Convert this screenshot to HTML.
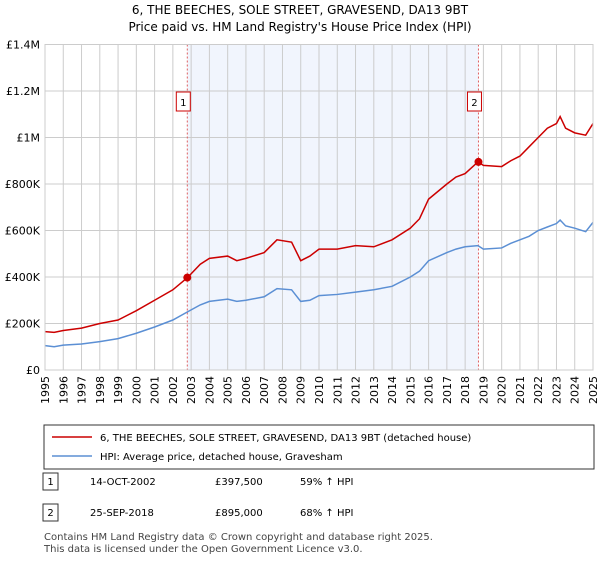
<!DOCTYPE html>
<html><head><meta charset="utf-8"><style>
body{margin:0;background:#fff;font-family:"Liberation Sans","DejaVu Sans",sans-serif}
</style></head><body>
<svg width="600" height="560" xmlns="http://www.w3.org/2000/svg" font-family="DejaVu Sans, Liberation Sans, sans-serif">
<text x="300" y="14" font-size="12" text-anchor="middle">6, THE BEECHES, SOLE STREET, GRAVESEND, DA13 9BT</text>
<text x="300" y="31" font-size="12" text-anchor="middle">Price paid vs. HM Land Registry's House Price Index (HPI)</text>
<g id="plot"></g>
<g>
<rect x="44" y="425" width="550" height="44" fill="#fff" stroke="#333"/>
<line x1="52" y1="437" x2="92" y2="437" stroke="#cc0000" stroke-width="1.5"/>
<text x="100" y="441" font-size="10">6, THE BEECHES, SOLE STREET, GRAVESEND, DA13 9BT (detached house)</text>
<line x1="52" y1="456" x2="92" y2="456" stroke="#5b8fd4" stroke-width="1.5"/>
<text x="100" y="460" font-size="10">HPI: Average price, detached house, Gravesham</text>
</g>
<g font-size="10">
<rect x="43" y="473" width="15" height="17" fill="#fff" stroke="#333"/><text x="50.5" y="485" text-anchor="middle">1</text>
<text x="90" y="485">14-OCT-2002</text><text x="215" y="485">£397,500</text><text x="300" y="485">59% ↑ HPI</text>
<rect x="43" y="504" width="15" height="17" fill="#fff" stroke="#333"/><text x="50.5" y="516" text-anchor="middle">2</text>
<text x="90" y="516">25-SEP-2018</text><text x="215" y="516">£895,000</text><text x="300" y="516">68% ↑ HPI</text>
</g>
<text x="44" y="540" font-size="10" fill="#444">Contains HM Land Registry data © Crown copyright and database right 2025.</text>
<text x="44" y="552" font-size="10" fill="#444">This data is licensed under the Open Government Licence v3.0.</text>
</svg>
<script>
const yTicks=[0,200,400,600,800,1000,1200,1400];
const yTickLabels=["£0","£200K","£400K","£600K","£800K","£1M","£1.2M","£1.4M"];
const years=[1995,1996,1997,1998,1999,2000,2001,2002,2003,2004,2005,2006,2007,2008,2009,2010,2011,2012,2013,2014,2015,2016,2017,2018,2019,2020,2021,2022,2023,2024,2025];
const hpiT=[1995,1995.5,1996,1997,1998,1999,2000,2001,2002,2002.8,2003.5,2004,2005,2005.5,2006,2007,2007.7,2008.5,2009,2009.5,2010,2011,2012,2013,2014,2015,2015.5,2016,2017,2017.5,2018,2018.7,2019,2020,2020.5,2021,2021.5,2022,2022.5,2023,2023.2,2023.5,2024,2024.6,2025];
const hpiV=[105,100,107,112,122,135,158,185,215,250,280,295,305,295,300,315,350,345,295,300,320,325,335,345,360,400,425,470,505,520,530,535,520,525,545,560,575,600,615,630,645,620,610,595,635];
const propV=[165,162,170,180,200,215,255,300,345,397.5,455,480,490,470,480,505,560,550,470,490,520,520,535,530,560,610,650,735,800,830,845,895,880,875,900,920,960,1000,1040,1060,1090,1040,1020,1010,1060];
const saleT=[2002.79,2018.73];
const saleV=[397.5,895];
const saleLabels=["1","2"];
const X0=45,X1=593,Y0=370,Y1=44.5;
const xs=t=>X0+(t-1995)/30*(X1-X0);
const ys=v=>Y0-v/1400*(Y0-Y1);
const g=document.getElementById('plot');
const NS="http://www.w3.org/2000/svg";
function mk(tag,at){const e=document.createElementNS(NS,tag);for(const k in at)e.setAttribute(k,at[k]);g.appendChild(e);return e;}
let sh=mk('rect',{x:xs(saleT[0]),y:Y1,width:xs(saleT[1])-xs(saleT[0]),height:Y0-Y1,fill:'#eef3fd',opacity:0.8});


years.forEach(y=>{let l=mk('line',{x1:xs(y),x2:xs(y),y1:Y1,y2:Y0,stroke:'#ccc'});


let t=mk('text',{transform:`translate(${xs(y)+4},${Y0+6}) rotate(-90)`,'text-anchor':'end','font-size':11});t.textContent=y;

});
yTicks.forEach((v,i)=>{let l=mk('line',{x1:X0,x2:X1,y1:ys(v),y2:ys(v),stroke:'#ccc'});


let t=mk('text',{x:X0-5,y:ys(v)+4,'text-anchor':'end','font-size':11});t.textContent=yTickLabels[i];

});
saleT.forEach((s,i)=>{let l=mk('line',{x1:xs(s),x2:xs(s),y1:Y1,y2:Y0,stroke:'#e06060','stroke-dasharray':'2,2'});


let r=mk('rect',{x:xs(s)-11,y:92,width:14,height:19,fill:'#fff',stroke:'#cc0000'});


let t=mk('text',{x:xs(s)-4,y:106,'text-anchor':'middle','font-size':10});t.textContent=saleLabels[i];

});
let hp=mk('polyline',{points:hpiT.map((t,i)=>xs(t)+','+ys(hpiV[i])).join(' '),fill:'none',stroke:'#5b8fd4','stroke-width':1.5});


let pp=mk('polyline',{points:hpiT.map((t,i)=>xs(t)+','+ys(propV[i])).join(' '),fill:'none',stroke:'#cc0000','stroke-width':1.5});


saleT.forEach((s,i)=>{let c=mk('circle',{cx:xs(s),cy:ys(saleV[i]),r:4,fill:'#cc0000'});

});
let fr=mk('rect',{x:X0,y:Y1,width:X1-X0,height:Y0-Y1,fill:'none',stroke:'#ccc'});


</script>
</body></html>
